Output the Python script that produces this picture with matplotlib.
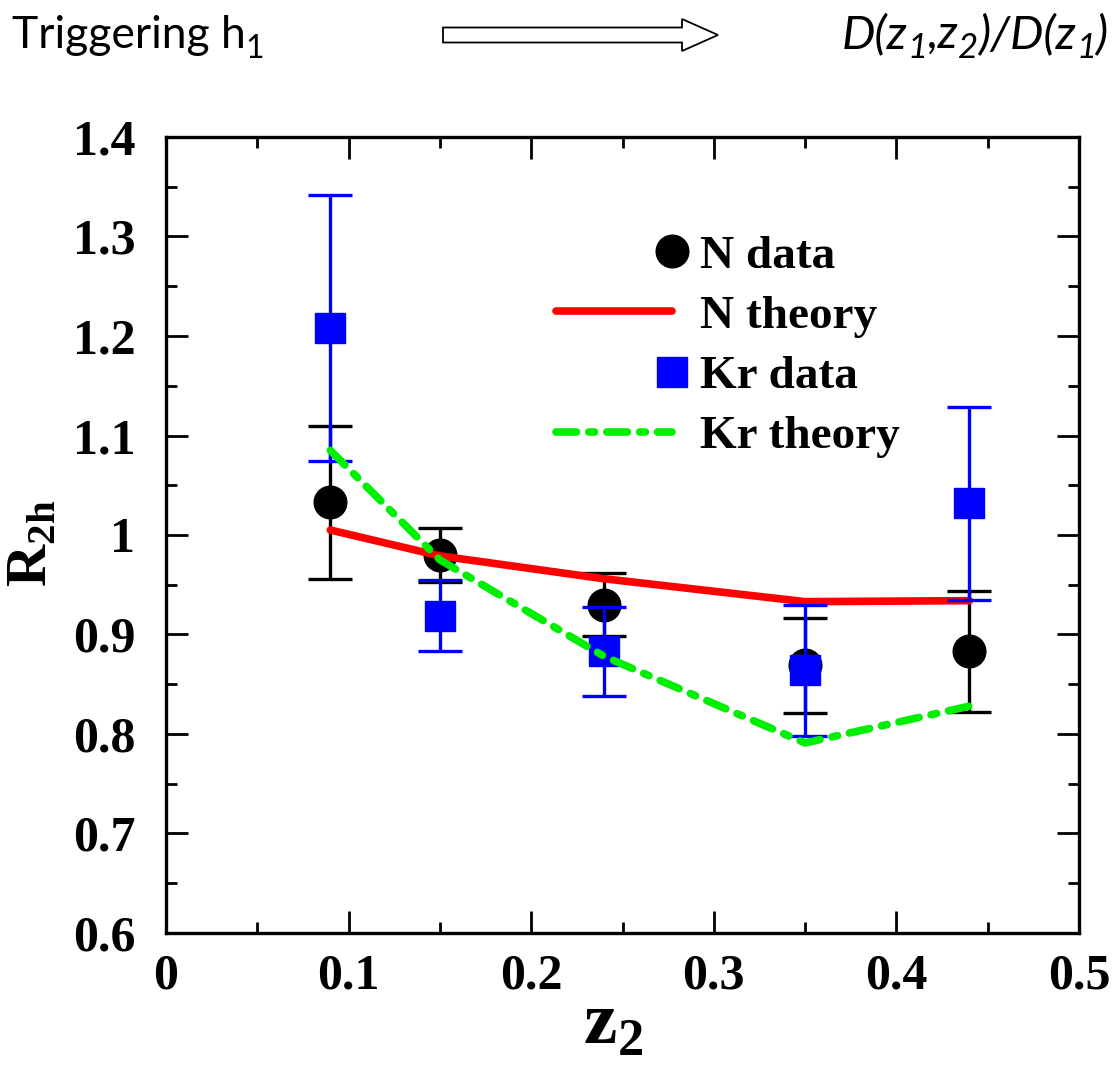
import matplotlib
matplotlib.use("Agg")
import matplotlib.pyplot as plt
from matplotlib.lines import Line2D
from matplotlib.legend_handler import HandlerLine2D
from matplotlib.patches import FancyArrow
from matplotlib.ticker import MultipleLocator, FuncFormatter

# values
z2 = [0.09, 0.15, 0.24, 0.35, 0.44]
n_data = [1.033, 0.980, 0.930, 0.869, 0.883]
n_err = [0.077, 0.027, 0.032, 0.048, 0.061]
kr_data = [1.208, 0.919, 0.883, 0.864, 1.032]
kr_err = [0.134, 0.036, 0.045, 0.066, 0.097]
n_theory = [1.005, 0.979, 0.956, 0.933, 0.934]
kr_theory = [1.085, 0.975, 0.878, 0.791, 0.828]
legend_labels = ["N data", "N theory", "Kr data", "Kr theory"]

plt.rcParams["font.family"] = "Liberation Serif"
plt.rcParams["font.weight"] = "bold"
plt.rcParams["mathtext.fontset"] = "custom"
plt.rcParams["mathtext.rm"] = "Liberation Serif"
plt.rcParams["mathtext.bf"] = "Liberation Serif:bold"

W, H = 1119, 1074
fig = plt.figure(figsize=(W / 100, H / 100), dpi=100)
ax = fig.add_axes([166 / W, 1 - 933 / H, 913 / W, 796 / H])

green = "#00ee00"
green_dash = (2.7, 1.6, 0.75, 1.6)

#N data with error bars, then N theory, Kr data, Kr theory on top
ax.errorbar(z2, n_data, yerr=n_err, fmt="o", color="black", ms=23.5,
            elinewidth=2.4, capsize=15.5, capthick=2.4, zorder=2)
ax.plot(z2, n_theory, color="red", lw=5.5, solid_capstyle="round", zorder=3)
ax.errorbar(z2, kr_data, yerr=kr_err, fmt="s", color="blue", ms=21.5,
            elinewidth=2.4, capsize=15.5, capthick=2.4, zorder=4)
ax.plot(z2, kr_theory, color=green, lw=5.5, dashes=green_dash,
        dash_capstyle="round", zorder=5)

ax.set_xlim(0, 0.5)
ax.set_ylim(0.6, 1.4)
ax.xaxis.set_major_locator(MultipleLocator(0.1))
ax.xaxis.set_minor_locator(MultipleLocator(0.05))
ax.yaxis.set_major_locator(MultipleLocator(0.1))
ax.yaxis.set_minor_locator(MultipleLocator(0.05))
fmt = FuncFormatter(lambda v, p: "%g" % round(v, 2))
ax.xaxis.set_major_formatter(fmt)
ax.yaxis.set_major_formatter(fmt)
ax.tick_params(which="both", direction="in", top=True, right=True, width=2)
ax.tick_params(which="major", length=16)
ax.tick_params(which="minor", length=8)
ax.tick_params(axis="x", labelsize=36, pad=15)
ax.tick_params(axis="y", labelsize=36, pad=22)
for s in ax.spines.values():
    s.set_linewidth(2.4)

ax.set_xlabel(r"$\mathbf{z}_\mathbf{2}$", fontsize=54)
ax.set_ylabel(r"$\mathbf{R}_\mathbf{2h}$", fontsize=42)
ax.xaxis.set_label_coords(0.49, -0.075)
ax.yaxis.set_label_coords(-0.118, 0.49)


# legend markers sit at the right end of the handle, not in the middle
class RightMarker(HandlerLine2D):
    def create_artists(self, legend, orig_handle, xdescent, ydescent,
                       width, height, fontsize, trans):
        mark = Line2D([width - xdescent], [(height - ydescent) / 2])
        self.update_prop(mark, orig_handle, legend)
        mark.set_linestyle("none")
        mark.set_transform(trans)
        return [mark]


handles = [
    Line2D([], [], ls="none", marker="o", color="black", ms=23.5),
    Line2D([], [], color="red", lw=5.5, solid_capstyle="round"),
    Line2D([], [], ls="none", marker="s", color="blue", ms=21.5),
    Line2D([], [], color=green, lw=5.5, dashes=green_dash, dash_capstyle="round"),
]
ax.legend(handles, legend_labels, loc="upper left", bbox_to_anchor=(0.427, 0.877),
          frameon=False, fontsize=34, borderpad=0, borderaxespad=0,
          handlelength=2.45, handletextpad=0.6, labelspacing=0.36, numpoints=1,
          handler_map={handles[0]: RightMarker(), handles[2]: RightMarker()})

# header line: text, arrow, text
renderer = fig.canvas.get_renderer()


def put_runs(x_px, base_px, runs, style, size, sub_size):
    x = x_px / W
    for s, sub in runs:
        y = base_px + (10 if sub else 0)
        t = fig.text(x, 1 - y / H, s, fontsize=sub_size if sub else size,
                     family="Lato", style=style, weight="normal", va="baseline")
        x = t.get_window_extent(renderer).x1 / W


put_runs(12, 48, [("Triggering h", False), ("1", True)], "normal", 32, 23)
put_runs(842, 48, [("D(z", False), ("1", True), (",z", False), ("2", True),
                   (")/D(z", False), ("1", True), (")", False)], "italic", 34, 25)

fig.add_artist(FancyArrow(443 / W, 1 - 35 / H, 275 / W, 0, width=15 / H,
                          head_width=32 / H, head_length=36 / W,
                          length_includes_head=True, transform=fig.transFigure,
                          fc="white", ec="black", lw=1.3))

fig.savefig("out.png", dpi=100)
